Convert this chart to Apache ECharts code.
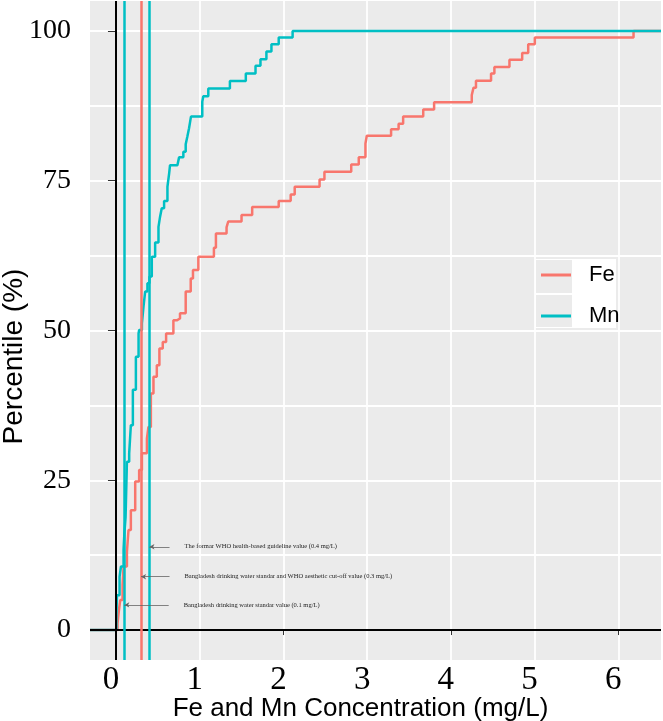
<!DOCTYPE html>
<html><head><meta charset="utf-8">
<script src="https://cdn.jsdelivr.net/npm/echarts@6/dist/echarts.min.js"></script>
<style>html,body{margin:0;padding:0;background:#fff}#c{width:663px;height:721px}</style>
</head><body><div id="c"></div>
<script>
// ECDF vertices (concentration mg/L, cumulative percentile %)
const feConc = [0.019,0.031,0.051,0.079,0.091,0.131,0.15,0.178,0.23,0.277,0.31,0.37,0.388,0.417,0.448,0.488,0.519,0.559,0.599,0.686,0.726,0.765,0.833,0.893,0.92,0.984,1.17,1.194,1.321,1.341,1.5,1.627,1.944,2.087,2.135,2.432,2.49,2.81,2.9,2.98,2.996,3.286,3.376,3.43,3.67,3.8,4.25,4.27,4.3,4.48,4.52,4.7,4.852,4.924,5.003,6.182];
const fePct  = [1.1,2.8,5.0,7.5,10.6,13.1,16.7,20.0,24.8,26.7,29.5,32.0,33.9,39.5,42.3,44.2,47.0,48.1,49.5,51.7,52.0,52.9,56.5,58.7,60.1,62.3,63.8,66.2,67.2,68.2,69.3,70.6,71.6,72.7,74.0,75.2,76.5,77.7,78.9,81.2,82.5,83.6,84.5,85.7,86.9,88.1,89.3,90.5,91.7,92.9,94.0,95.2,96.3,97.8,98.9,100];
const mnConc = [0.005,0.012,0.043,0.06,0.091,0.1,0.115,0.131,0.158,0.178,0.202,0.238,0.27,0.277,0.31,0.329,0.349,0.376,0.4,0.428,0.468,0.508,0.527,0.547,0.575,0.615,0.635,0.646,0.734,0.754,0.805,0.833,0.853,0.873,0.896,1.031,1.043,1.103,1.361,1.551,1.667,1.726,1.797,1.857,1.944,2.11];
const mnPct  = [2.2,5.8,8.9,10.6,13.4,16.0,18.9,28.1,29.5,34.2,40.1,45.6,49.5,50.1,51.2,54.0,56.5,57.9,59.0,62.3,64.7,67.3,69.0,70.4,71.6,74.0,76.2,77.6,77.9,78.9,79.85,81.1,82.4,83.75,85.7,88.2,89.1,90.4,91.65,92.9,94.2,95.27,96.55,97.78,98.89,100];

const xTickLabels = [0,1,2,3,4,5,6];
const xGridValues = [0,1,2,3,4,5,6];
const xMajorTicks = [0,2,4,6];
const yTickLabels = [0,25,50,75,100];
const yGridValues = [0,12.5,25,37.5,50,62.5,75,87.5,100];
const xRange = [-0.31, 6.51];
const yRange = [-5, 105];

// reference lines
const originConc = 0;
const originPct = 0;
const guideConc = [0.1, 0.3, 0.4];
const guideElement = ['Mn', 'Fe', 'Mn'];

// annotations
const noteTexts = [
  'The formar WHO health-based guideline value (0.4 mg/L)',
  'Bangladesh drinking water standar and WHO aesthetic cut-off value (0.3 mg/L)',
  'Bangladesh drinking water standar value (0.1 mg/L)'
];
const notePct = [13.9, 8.9, 4.2];
const noteTargetConc = [0.4, 0.3, 0.1];
const noteTailConc = [0.64, 0.64, 0.63];

const COLORS = { Fe: '#F8766D', Mn: '#00BFC4' };
const SERIF = "'Liberation Serif', 'DejaVu Serif', serif";
const SANS = "'Liberation Sans', Arial, sans-serif";

function ecdf(conc, pct) {
  const d = [[xRange[0], 0]];
  for (let i = 0; i < conc.length; i++) d.push([conc[i], pct[i]]);
  d.push([xRange[1], pct[pct.length - 1]]);
  return d;
}

const chart = echarts.init(document.getElementById('c'), null, { renderer: 'canvas' });
const option = {
  animation: false,
  backgroundColor: '#fff',
  grid: { left: 90, right: 2, top: 1, bottom: 61, containLabel: false, outerBoundsMode: 'none',
          show: true, backgroundColor: '#EBEBEB', borderWidth: 0 },
  xAxis: [{
    type: 'value', min: xRange[0], max: xRange[1],
    axisLine: { show: false },
    axisTick: { show: false, customValues: xGridValues },
    splitLine: { show: true, lineStyle: { color: '#fff', width: 1.8 } },
    axisLabel: { customValues: xTickLabels, fontFamily: SERIF, fontSize: 33, color: '#000', margin: 4, padding: [0, 10, 0, 0] },
    name: 'Fe and Mn Concentration (mg/L)', nameLocation: 'middle', nameGap: 36, nameMoveOverlap: false,
    nameTextStyle: { fontFamily: SANS, fontSize: 26, color: '#000', padding: [0, 30, 0, 0] }
  }, {
    type: 'value', min: xRange[0], max: xRange[1], position: 'bottom',
    axisLine: { show: false },
    axisTick: { show: true, customValues: xMajorTicks, length: 5, lineStyle: { color: '#333', width: 1 } },
    axisLabel: { show: false }, splitLine: { show: false }
  }],
  yAxis: [{
    type: 'value', min: yRange[0], max: yRange[1],
    axisLine: { show: false },
    axisTick: { show: false, customValues: yGridValues },
    splitLine: { show: true, lineStyle: { color: '#fff', width: 1.8 } },
    axisLabel: { customValues: yTickLabels, fontFamily: SERIF, fontSize: 28, color: '#000', margin: 19 },
    name: 'Percentile (%)', nameLocation: 'middle', nameGap: 62, nameRotate: 90, nameMoveOverlap: false,
    nameTextStyle: { fontFamily: SANS, fontSize: 28, color: '#000', padding: [0, 52, 0, 0] }
  }, {
    type: 'value', min: yRange[0], max: yRange[1], position: 'left',
    axisLine: { show: false },
    axisTick: { show: true, customValues: yTickLabels, length: 8, lineStyle: { color: '#333', width: 1 } },
    axisLabel: { show: false }, splitLine: { show: false }
  }],
  legend: {
    data: ['Fe', 'Mn'], orient: 'vertical', left: 536, top: 259, z: 10,
    icon: 'rect', itemWidth: 30, itemHeight: 3, itemGap: 19,
    textStyle: { fontFamily: SANS, fontSize: 22, color: '#000', lineHeight: 22, padding: [0, 0, 0, 13] }
  },
  graphic: [
    { type: 'rect', z: 5, shape: { x: 535, y: 259, width: 81, height: 69 }, style: { fill: '#fff' } },
    { type: 'rect', z: 6, shape: { x: 536, y: 260, width: 36, height: 33 }, style: { fill: '#EBEBEB' } },
    { type: 'rect', z: 6, shape: { x: 536, y: 295, width: 36, height: 32 }, style: { fill: '#EBEBEB' } }
  ],
  series: [
    {
      name: 'Fe', type: 'line', step: 'end', showSymbol: false, z: 3,
      data: ecdf(feConc, fePct), color: COLORS.Fe,
      lineStyle: { color: COLORS.Fe, width: 2.5 }
    },
    {
      name: 'Mn', type: 'line', step: 'end', showSymbol: false, z: 4,
      data: ecdf(mnConc, mnPct), color: COLORS.Mn,
      lineStyle: { color: COLORS.Mn, width: 2.5 }
    },
    {
      name: 'guides', type: 'line', data: [], z: 5,
      markLine: {
        silent: true, symbol: 'none', animation: false, label: { show: false },
        data: [
          { xAxis: originConc, lineStyle: { color: '#000', width: 2, type: 'solid' } },
          { yAxis: originPct, lineStyle: { color: '#000', width: 2, type: 'solid' } }
        ].concat(guideConc.map((v, i) => ({ xAxis: v, lineStyle: { color: COLORS[guideElement[i]], width: 2.5, type: 'solid' } })))
      }
    },
    {
      name: 'notes', type: 'line', data: [], z: 6,
      markLine: {
        silent: true, animation: false,
        symbol: ['none', 'arrow'], symbolSize: [4, 5],
        lineStyle: { color: '#666', width: 0.8, type: 'solid' },
        label: { show: true, position: 'start', distance: 15, formatter: '{b}', fontFamily: SERIF, fontSize: 6.5, color: '#222' },
        data: noteTexts.map((t, i) => [
          { name: t, coord: [noteTailConc[i], notePct[i]] },
          { coord: [noteTargetConc[i], notePct[i]] }
        ])
      }
    }
  ]
};
chart.setOption(option);
</script>
</body></html>
